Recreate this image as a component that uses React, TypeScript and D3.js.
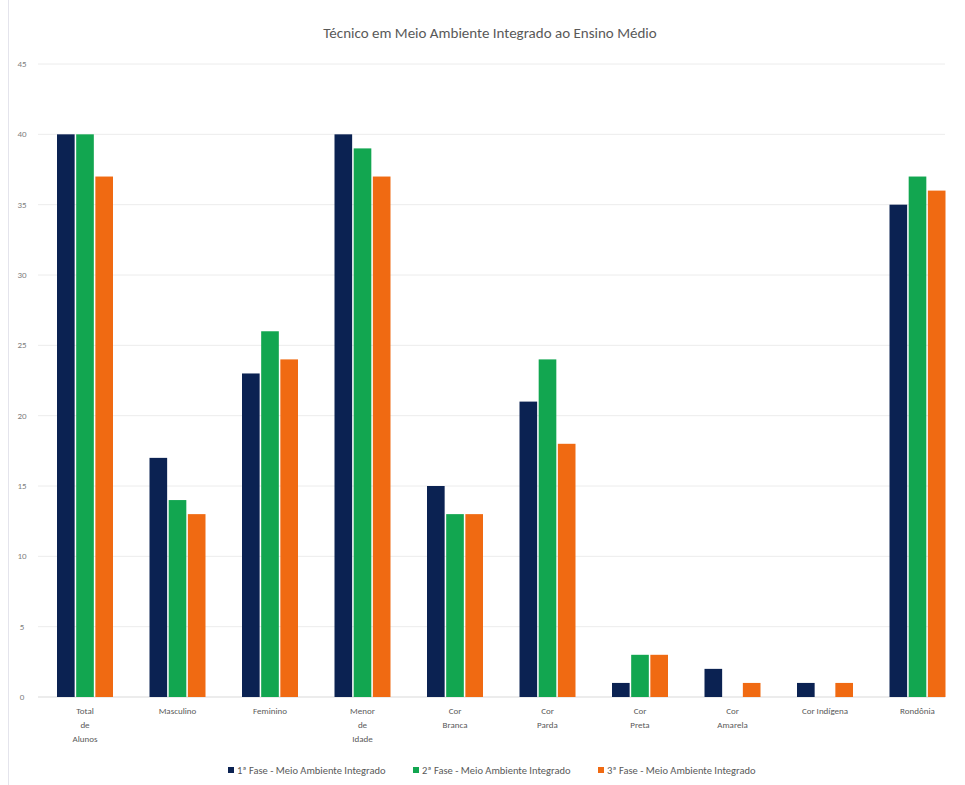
import React from "react";
import * as d3 from "d3";

const categories: string[][] = [
  ["Total", "de", "Alunos"],
  ["Masculino"],
  ["Feminino"],
  ["Menor", "de", "Idade"],
  ["Cor", "Branca"],
  ["Cor", "Parda"],
  ["Cor", "Preta"],
  ["Cor", "Amarela"],
  ["Cor Indígena"],
  ["Rondônia"],
];
const seriesNames = [
  "1ª Fase - Meio Ambiente Integrado",
  "2ª Fase - Meio Ambiente Integrado",
  "3ª Fase - Meio Ambiente Integrado",
];
const fase1 = [40, 17, 23, 40, 15, 21, 1, 2, 1, 35];
const fase2 = [40, 14, 26, 39, 13, 24, 3, 0, 0, 37];
const fase3 = [37, 13, 24, 37, 13, 18, 3, 1, 1, 36];
const yTicks = [0, 5, 10, 15, 20, 25, 30, 35, 40, 45];
const colors = ["#0b2252", "#12a650", "#f06a12"];

export default function App() {
  const W = 965, H = 785;
  const series = [fase1, fase2, fase3];
  const keys = categories.map((c) => c.join(" "));
  const x = d3.scaleBand<string>().domain(keys).range([38.75, 963.75]);
  const inner = d3.scaleBand<number>().domain([0, 1, 2]).range([-28, 28]).paddingInner(0.08);
  const y = d3.scaleLinear().domain([0, 45]).range([697, 64]);
  const font = "Calibri, Carlito, 'Liberation Sans', Arial, sans-serif";
  const legendX = [228, 413, 598];
  return (
    <svg width={W} height={H} style={{ position: "absolute", left: 0, top: 0, background: "#fff" }} fontFamily={font}>
      <rect x={0} y={0} width={W} height={H} fill="#fff" />
      <line x1={8.5} x2={8.5} y1={0} y2={H} stroke="#e4e4ec" />
      <text x={490} y={38} textAnchor="middle" fontSize={15} fill="#595959">
        Técnico em Meio Ambiente Integrado ao Ensino Médio
      </text>
      {yTicks.map((t) => (
        <g key={t}>
          <line x1={38} x2={945} y1={y(t)} y2={y(t)} stroke={t === 0 ? "#d9d9d9" : "#ececec"} strokeWidth={1} />
          <text x={22} y={y(t) + 3} textAnchor="middle" fontSize={9} fill="#7f7f7f">
            {t}
          </text>
        </g>
      ))}
      {keys.map((k, i) => (
        <g key={k}>
          {series.map((s, j) => (
            <rect
              key={j}
              x={(x(k) as number) + x.bandwidth() / 2 + (inner(j) as number)}
              y={y(s[i])}
              width={inner.bandwidth()}
              height={y(0) - y(s[i])}
              fill={colors[j]}
            />
          ))}
          <text textAnchor="middle" fontSize={9} fill="#595959">
            {categories[i].map((line, li) => (
              <tspan key={li} x={(x(k) as number) + x.bandwidth() / 2} y={714 + li * 14}>
                {line}
              </tspan>
            ))}
          </text>
        </g>
      ))}
      {seriesNames.map((n, j) => (
        <g key={n}>
          <rect x={legendX[j]} y={767} width={6} height={6} fill={colors[j]} />
          <text x={legendX[j] + 9} y={774} fontSize={10.5} fill="#595959">
            {n}
          </text>
        </g>
      ))}
    </svg>
  );
}
